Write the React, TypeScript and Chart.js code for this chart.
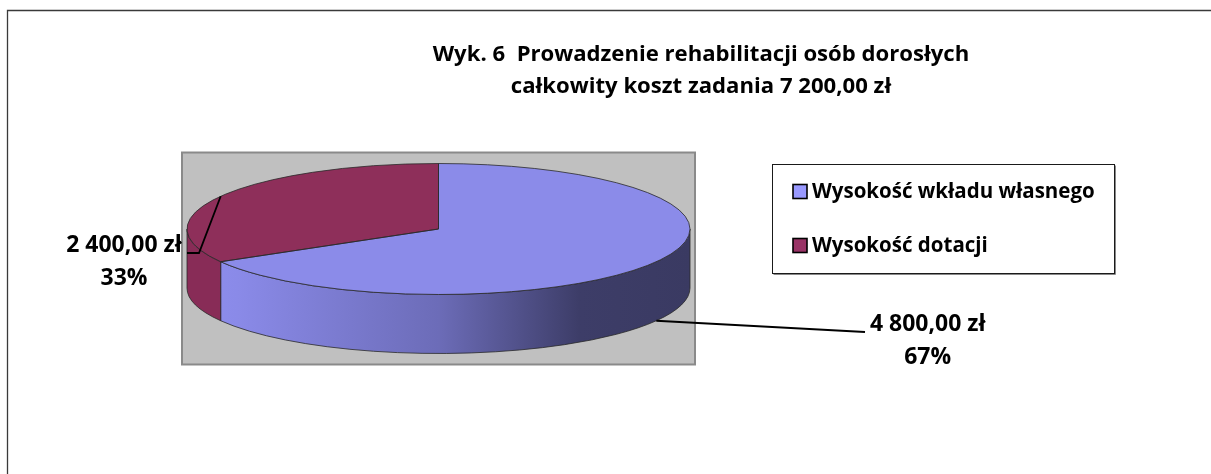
import React, { useEffect, useRef } from 'react';
import { Chart, registerables } from 'chart.js';

Chart.register(...registerables);

// ---- data ----
const CATEGORIES = ['Wysokość wkładu własnego', 'Wysokość dotacji'];
const VALUES = [4800, 2400];
const TITLE_LINES = [
  'Wyk. 6  Prowadzenie rehabilitacji osób dorosłych',
  'całkowity koszt zadania 7 200,00 zł',
];

// ---- styles ----
const TOP_COLORS = ['#8b8be9', '#8e2f5a'];
const SIDE_COLORS = ['#8b8be9', '#882c57'];
const LEGEND_COLORS = ['#9999ff', '#993366'];

const W = 1211;
const H = 474;
const FONT = '"Open Sans", Lato, sans-serif';
const PIE_RADIUS = 251.5;
const TILT = 0.2604; // vertical squash of the top face
const DEPTH = 59;

function formatPLN(v: number): string {
  const [i, d] = v.toFixed(2).split('.');
  return i.replace(/\B(?=(\d{3})+(?!\d))/g, ' ') + ',' + d + ' zł';
}

function fitSize(ctx: CanvasRenderingContext2D, text: string, target: number): number {
  ctx.font = `bold 100px ${FONT}`;
  return (100 * target) / ctx.measureText(text).width;
}

function frontRanges(s: number, e: number): [number, number][] {
  const out: [number, number][] = [];
  for (let k = -1; k <= 1; k++) {
    const lo = Math.max(s, k * 2 * Math.PI);
    const hi = Math.min(e, k * 2 * Math.PI + Math.PI);
    if (hi > lo) out.push([lo, hi]);
  }
  return out;
}

const frame = {
  id: 'frame',
  beforeDraw(chart: any) {
    const ctx = chart.ctx;
    ctx.save();
    ctx.fillStyle = '#ffffff';
    ctx.fillRect(0, 0, W, H);
    ctx.strokeStyle = '#3a3a3a';
    ctx.lineWidth = 1.3;
    ctx.beginPath();
    ctx.moveTo(7.5, H + 5);
    ctx.lineTo(7.5, 10.5);
    ctx.lineTo(W + 5, 10.5);
    ctx.stroke();
    // title
    const size = fitSize(ctx, TITLE_LINES[0], 537);
    ctx.fillStyle = '#000';
    ctx.font = `bold ${size}px ${FONT}`;
    ctx.textAlign = 'center';
    ctx.textBaseline = 'alphabetic';
    ctx.fillText(TITLE_LINES[0], 701, 61);
    ctx.fillText(TITLE_LINES[1], 701, 93);
    ctx.restore();
  },
};

const pie3d = {
  id: 'pie3d',
  beforeDatasetsDraw(chart: any) {
    const ctx = chart.ctx;
    const arcs = chart.getDatasetMeta(0).data;
    const a0 = arcs[0];
    const cx = a0.x;
    const cy = a0.y;
    const rx = a0.outerRadius;
    const ry = rx * TILT;
    const d = DEPTH;
    ctx.save();
    // plot area
    const px = cx - rx - 5;
    const py = cy - ry - 11;
    const pw = 2 * rx + 10;
    const ph = 2 * ry + d + 22;
    ctx.fillStyle = '#c0c0c0';
    ctx.fillRect(px, py, pw, ph);
    ctx.strokeStyle = '#8a8a8a';
    ctx.lineWidth = 2;
    ctx.strokeRect(px, py, pw, ph);
    // side walls
    const grad = ctx.createLinearGradient(cx - rx, 0, cx + rx, 0);
    grad.addColorStop(0, '#8e8ef0');
    grad.addColorStop(0.1, '#8a8ae8');
    grad.addColorStop(0.5, '#6c6cb8');
    grad.addColorStop(0.78, '#3d3d68');
    grad.addColorStop(1, '#3a3a62');
    arcs.forEach((arc: any, i: number) => {
      frontRanges(arc.startAngle, arc.endAngle).forEach(([a, b]) => {
        ctx.beginPath();
        ctx.ellipse(cx, cy, rx, ry, 0, a, b, false);
        ctx.ellipse(cx, cy + d, rx, ry, 0, b, a, true);
        ctx.closePath();
        ctx.fillStyle = i === 0 ? grad : SIDE_COLORS[i];
        ctx.fill();
        ctx.strokeStyle = '#2a2a2a';
        ctx.lineWidth = 0.8;
        ctx.stroke();
      });
    });
    ctx.restore();
    ctx.save();
    ctx.translate(0, cy);
    ctx.scale(1, TILT);
    ctx.translate(0, -cy);
  },
  afterDatasetsDraw(chart: any) {
    const ctx = chart.ctx;
    ctx.restore();
    const arcs = chart.getDatasetMeta(0).data;
    const cx = arcs[0].x;
    const cy = arcs[0].y;
    const rx = arcs[0].outerRadius;
    const ry = rx * TILT;
    ctx.save();
    ctx.strokeStyle = '#2a2a2a';
    ctx.lineWidth = 0.8;
    arcs.forEach((arc: any) => {
      ctx.beginPath();
      ctx.moveTo(cx, cy);
      ctx.ellipse(cx, cy, rx, ry, 0, arc.startAngle, arc.endAngle, false);
      ctx.closePath();
      ctx.stroke();
    });
    ctx.restore();
  },
  afterDraw(chart: any) {
    const ctx = chart.ctx;
    const arcs = chart.getDatasetMeta(0).data;
    const cx = arcs[0].x;
    const cy = arcs[0].y;
    const rx = arcs[0].outerRadius;
    const ry = rx * TILT;
    const total = VALUES.reduce((s, v) => s + v, 0);
    ctx.save();
    const labelSize = fitSize(ctx, formatPLN(VALUES[1]), 115.5);
    ctx.font = `bold ${labelSize}px ${FONT}`;
    ctx.textBaseline = 'alphabetic';
    ctx.textAlign = 'center';
    ctx.strokeStyle = '#000';
    ctx.lineWidth = 1.8;
    arcs.forEach((arc: any, i: number) => {
      const m = (arc.startAngle + arc.endAngle) / 2;
      const front = Math.sin(m) > 0;
      const sx = cx + rx * Math.cos(m);
      const sy = cy + ry * Math.sin(m) + (front ? DEPTH : 0);
      const l1 = formatPLN(VALUES[i]);
      const l2 = Math.round((VALUES[i] / total) * 100) + '%';
      const wMax = Math.max(ctx.measureText(l1).width, ctx.measureText(l2).width);
      const right = Math.cos(m) > 0;
      ctx.beginPath();
      ctx.moveTo(sx, sy);
      let ax: number;
      let ay: number;
      if (right) {
        ax = cx + 426.5;
        ay = cy + 103;
        ctx.lineTo(ax, ay);
      } else {
        ax = cx - rx;
        ay = cy + 24;
        ctx.lineTo(ax + 12, ay);
        ctx.lineTo(ax, ay);
      }
      ctx.stroke();
      const tcx = right ? ax + 5 + wMax / 2 : ax - 5.3 - wMax / 2;
      ctx.fillStyle = '#000';
      ctx.fillText(l1, tcx, ay - 1.5);
      ctx.fillText(l2, tcx, ay + 31.5);
    });

    // legend
    ctx.strokeStyle = '#888';
    ctx.lineWidth = 1;
    ctx.beginPath();
    ctx.moveTo(1115.5, 165.5);
    ctx.lineTo(1115.5, 274.5);
    ctx.lineTo(773.5, 274.5);
    ctx.stroke();
    ctx.strokeStyle = '#1a1a1a';
    ctx.strokeRect(772.5, 164.5, 342, 109);
    const legendSize = fitSize(ctx, CATEGORIES[0], 283);
    ctx.font = `bold ${legendSize}px ${FONT}`;
    ctx.textAlign = 'left';
    CATEGORIES.forEach((label, i) => {
      const y = 184.5 + i * 54;
      ctx.fillStyle = LEGEND_COLORS[i];
      ctx.fillRect(793, y, 14, 14);
      ctx.strokeStyle = '#000';
      ctx.lineWidth = 1.6;
      ctx.strokeRect(793, y, 14, 14);
      ctx.fillStyle = '#000';
      ctx.fillText(label, 812, y + 13.5);
    });
    ctx.restore();
  },
};

export default function App() {
  const ref = useRef<HTMLCanvasElement | null>(null);
  useEffect(() => {
    if (!ref.current) return;
    const chart = new Chart(ref.current, {
      type: 'pie',
      data: {
        labels: CATEGORIES,
        datasets: [
          {
            data: VALUES,
            backgroundColor: TOP_COLORS,
            borderWidth: 0,
            radius: PIE_RADIUS,
            clip: false as any,
          } as any,
        ],
      },
      options: {
        responsive: false,
        animation: false,
        events: [],
        layout: { padding: { left: 0, right: 334, top: 0, bottom: 16 } },
        plugins: {
          legend: { display: false },
          title: { display: false },
          tooltip: { enabled: false },
        },
      },
      plugins: [frame, pie3d],
    });
    return () => chart.destroy();
  }, []);
  return (
    <div
      style={{
        position: 'absolute',
        left: 0,
        top: 0,
        width: W,
        height: H,
        overflow: 'hidden',
        background: '#fff',
      }}
    >
      <canvas ref={ref} width={W} height={H} style={{ width: W, height: H, display: 'block' }} />
    </div>
  );
}
